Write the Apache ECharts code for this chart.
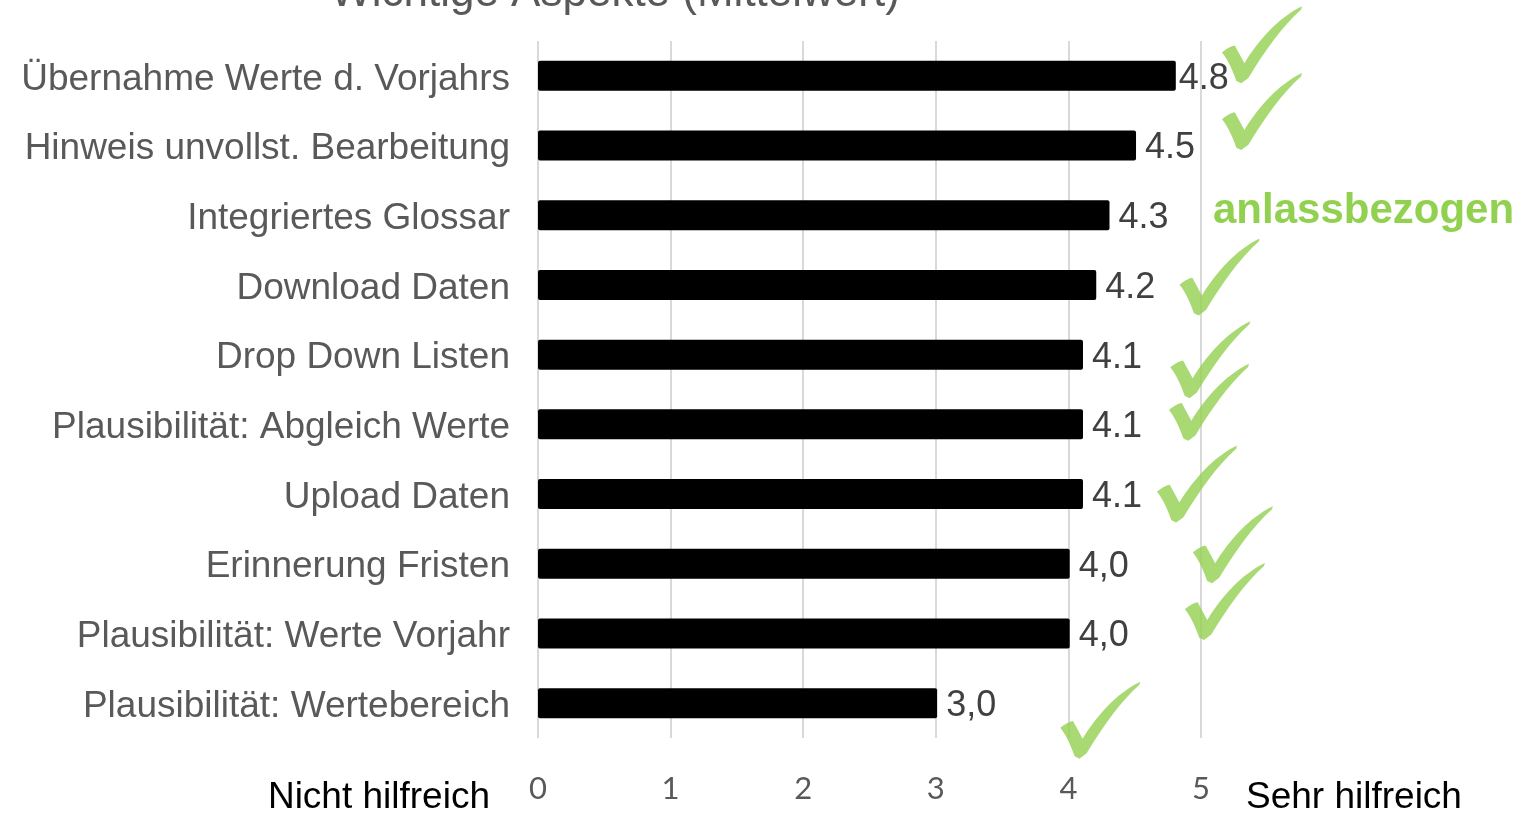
<!DOCTYPE html>
<html>
<head>
<meta charset="utf-8">
<script src="https://cdn.jsdelivr.net/npm/echarts@6/dist/echarts.min.js"></script>
<style>
html,body{margin:0;padding:0;background:#fff;}
#chart{width:1526px;height:814px;}
</style>
</head>
<body>
<div id="chart"></div>
<script>
// ---- data ----
const categories = [
  'Übernahme Werte d. Vorjahrs',
  'Hinweis unvollst. Bearbeitung',
  'Integriertes Glossar',
  'Download Daten',
  'Drop Down Listen',
  'Plausibilität: Abgleich Werte',
  'Upload Daten',
  'Erinnerung Fristen',
  'Plausibilität: Werte Vorjahr',
  'Plausibilität: Wertebereich'
];
const values = [4.81, 4.51, 4.31, 4.21, 4.11, 4.11, 4.11, 4.01, 4.01, 3.01];
const valueLabels = ['4.8', '4.5', '4.3', '4.2', '4.1', '4.1', '4.1', '4,0', '4,0', '3,0'];
const xTicks = [0, 1, 2, 3, 4, 5];
const titleText = 'Wichtige Aspekte (Mittelwert)';
const leftAxisText = 'Nicht hilfreich';
const rightAxisText = 'Sehr hilfreich';
const noteText = 'anlassbezogen';
// rows carrying a check mark (category index)
const checkRows = [0, 1, 3, 4, 5, 6, 7, 8, 9];

// ---- annotation placement (x in axis units, vertical offset in px) ----
const checkPlacement = [
  [5.46, -31], [5.46, -34], [5.14, -8], [5.07, 5], [5.06, -22],
  [4.97, -10], [5.24, -19], [5.18, -32], [4.24, 17]
];

const checkPath = 'path://M0,60 C6,55 11,52 16,51 L28,74 C45,45 70,15 100,0 L99,4 C76,25 52,60 33,93 L24,100 L18,97 C14,85 8,70 0,60 Z';

const chart = echarts.init(document.getElementById('chart'), null, {renderer: 'canvas'});

const barData = values.map((v, i) => ({
  value: v,
  label: { formatter: valueLabels[i], distance: i === 0 ? 3 : 9 }
}));

const checkData = checkRows.map((row, i) => ({
  value: [checkPlacement[i][0], row],
  symbolOffset: [0, checkPlacement[i][1]]
}));

chart.setOption({
  animation: false,
  backgroundColor: '#ffffff',
  grid: { left: 538, right: 325, top: 41, bottom: 76, containLabel: false },
  xAxis: {
    type: 'value',
    min: 0, max: 5, interval: 1,
    axisLine: { show: false },
    axisTick: { show: false },
    splitLine: { show: true, lineStyle: { color: '#d9d9d9', width: 2 } },
    axisLabel: {
      margin: 35,
      fontFamily: 'Lato',
      fontSize: 31,
      color: '#595959',
      formatter: v => xTicks.includes(v) ? String(v) : ''
    }
  },
  yAxis: {
    type: 'category',
    data: categories,
    inverse: true,
    axisLine: { show: false },
    axisTick: { show: false },
    splitLine: { show: false },
    axisLabel: {
      margin: 28,
      formatter: v => '{c|' + v + '}',
      rich: {
        c: {
          fontFamily: 'Liberation Sans',
          fontSize: 37,
          color: '#595959',
          padding: [7, 0, 0, 0]
        }
      }
    }
  },
  series: [
    {
      type: 'bar',
      data: barData,
      barWidth: 30,
      itemStyle: { color: '#000000', borderRadius: 2 },
      label: {
        show: true,
        position: 'right',
        offset: [0, 3],
        fontFamily: 'Liberation Sans',
        fontSize: 36,
        color: '#404040'
      }
    },
    {
      type: 'scatter',
      data: checkData,
      clip: false,
      symbol: checkPath,
      symbolSize: [80, 77],
      symbolKeepAspect: false,
      itemStyle: { color: '#92D050' },
      z: 5
    }
  ],
  graphic: [
    {
      type: 'text',
      x: 615, y: -6,
      style: {
        text: titleText,
        fontFamily: 'Liberation Sans',
        fontSize: 44,
        fill: '#595959',
        textAlign: 'center',
        textVerticalAlign: 'middle'
      }
    },
    {
      type: 'text',
      x: 490, y: 798,
      style: {
        text: leftAxisText,
        fontFamily: 'Liberation Sans',
        fontSize: 37,
        fill: '#000000',
        textAlign: 'right',
        textVerticalAlign: 'middle'
      }
    },
    {
      type: 'text',
      x: 1246, y: 798,
      style: {
        text: rightAxisText,
        fontFamily: 'Liberation Sans',
        fontSize: 37,
        fill: '#000000',
        textAlign: 'left',
        textVerticalAlign: 'middle'
      }
    },
    {
      type: 'text',
      x: 1213, y: 211,
      style: {
        text: noteText,
        fontFamily: 'Liberation Sans',
        fontWeight: 'bold',
        fontSize: 42,
        fill: '#92D050',
        textAlign: 'left',
        textVerticalAlign: 'middle'
      }
    }
  ]
});
</script>
</body>
</html>
